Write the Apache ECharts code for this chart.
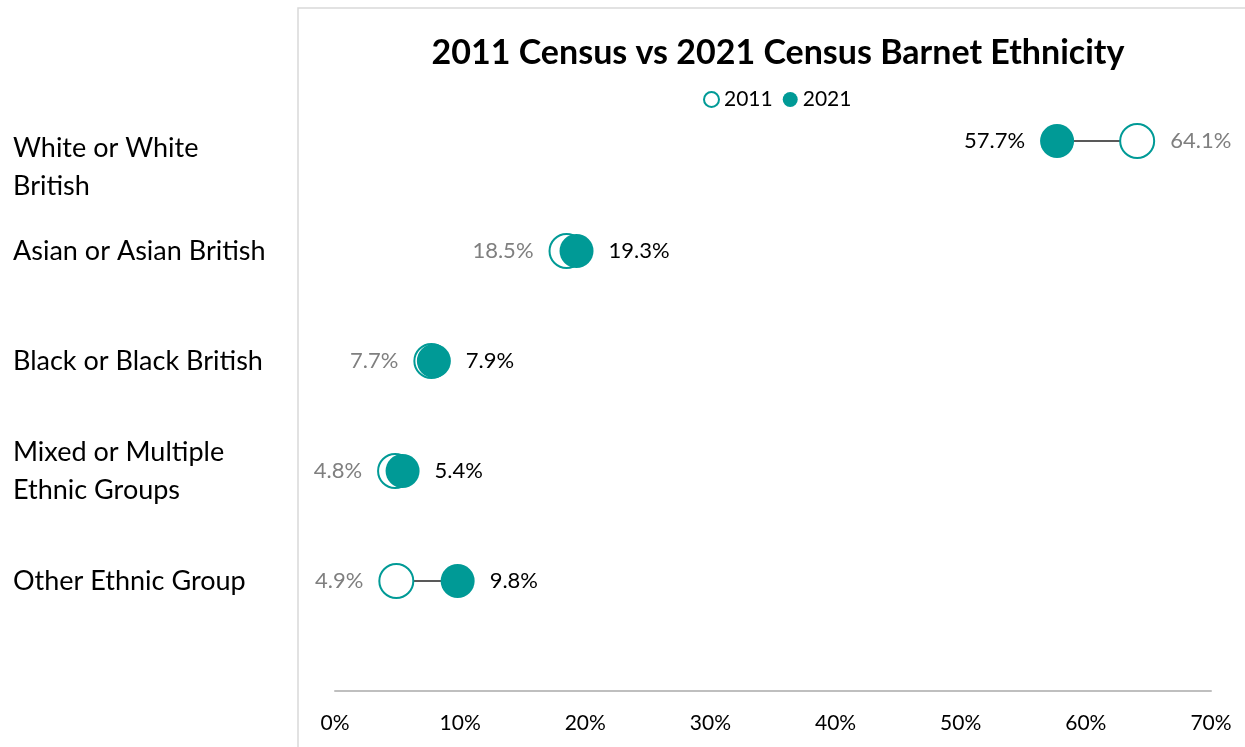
<!DOCTYPE html>
<html>
<head>
<meta charset="utf-8">
<script src="https://cdn.jsdelivr.net/npm/echarts@6/dist/echarts.min.js"></script>
<style>
  html, body { margin: 0; padding: 0; background: #fff; }
  #main { width: 1245px; height: 747px; }
</style>
</head>
<body>
<div id="main"></div>
<script>
// data (percent of population)
const categories = ['White or White\nBritish', 'Asian or Asian British', 'Black or Black British', 'Mixed or Multiple\nEthnic Groups', 'Other Ethnic Group'];
const values2011 = [64.1, 18.5, 7.7, 4.8, 4.9];
const values2021 = [57.7, 19.3, 7.9, 5.4, 9.8];
const xTicks = [0, 10, 20, 30, 40, 50, 60, 70];

const teal = '#009a96';
const font = 'Lato, "Open Sans", sans-serif';

// row position for each category on the vertical value axis (top row = 5)
const rowOf = (i) => categories.length - i;

const chart = echarts.init(document.getElementById('main'));

// one short connector line per category
const connectors = categories.map((c, i) => ({
  type: 'line',
  silent: true,
  symbol: 'none',
  z: 1,
  lineStyle: { color: '#595959', width: 2 },
  data: [[values2011[i], rowOf(i)], [values2021[i], rowOf(i)]]
}));

const option = {
  textStyle: { fontFamily: font },
  animation: false,
  title: {
    text: '2011 Census vs 2021 Census Barnet Ethnicity',
    left: 773,
    top: 31,
    textAlign: 'center',
    textStyle: { fontSize: 34, fontWeight: 'bold', color: '#000', fontFamily: font }
  },
  legend: {
    left: 698,
    top: 84,
    itemWidth: 15,
    itemHeight: 15,
    itemGap: 10,
    textStyle: { fontSize: 21, color: '#000', fontFamily: font },
    data: [
      { name: '2011', icon: 'circle', itemStyle: { color: '#fff', borderColor: teal, borderWidth: 2 } },
      { name: '2021', icon: 'circle', itemStyle: { color: teal } }
    ]
  },
  graphic: [
    {
      type: 'rect',
      shape: { x: 298, y: 8, width: 1000, height: 800 },
      style: { fill: 'none', stroke: '#d9d9d9', lineWidth: 1.5 },
      silent: true
    }
  ],
  grid: { left: 335, right: 34, top: 31, bottom: 56 },
  xAxis: {
    type: 'value',
    min: xTicks[0],
    max: xTicks[xTicks.length - 1],
    interval: 10,
    splitLine: { show: false },
    axisTick: { show: false },
    axisLine: { show: true, lineStyle: { color: '#bfbfbf', width: 2 } },
    axisLabel: {
      formatter: (v) => v + '%',
      fontSize: 21,
      color: '#000',
      margin: 22,
      fontFamily: font
    }
  },
  yAxis: {
    type: 'value',
    min: 0,
    max: 6,
    interval: 1,
    splitLine: { show: false },
    axisTick: { show: false },
    axisLine: { show: false },
    axisLabel: {
      formatter: (v) => {
        const i = categories.length - v;
        if (i < 0 || i >= categories.length) return '';
        // the top label sits lower in the reference
        if (i === 0) {
          return '{gap|}\n' + categories[i].split('\n').map((s) => '{t|' + s + '}').join('\n');
        }
        return categories[i];
      },
      align: 'left',
      margin: 322,
      fontSize: 27,
      lineHeight: 38,
      color: '#000',
      fontFamily: font,
      rich: {
        gap: { lineHeight: 52, fontSize: 1 },
        t: { fontSize: 27, lineHeight: 38, color: '#000', fontFamily: font }
      }
    }
  },
  series: connectors.concat([
    {
      name: '2011',
      type: 'scatter',
      z: 3,
      symbol: 'circle',
      symbolSize: 34,
      itemStyle: { color: '#fff', borderColor: teal, borderWidth: 2, opacity: 1 },
      data: values2011.map((v, i) => ({
        value: [v, rowOf(i)],
        label: { position: v > values2021[i] ? 'right' : 'left' }
      })),
      label: {
        show: true,
        formatter: (p) => p.value[0].toFixed(1) + '%',
        fontSize: 22,
        color: '#7f7f7f',
        distance: 15,
        fontFamily: font
      }
    },
    {
      name: '2021',
      type: 'scatter',
      z: 4,
      symbol: 'circle',
      symbolSize: 34,
      itemStyle: { color: teal, opacity: 1 },
      data: values2021.map((v, i) => ({
        value: [v, rowOf(i)],
        label: { position: v >= values2011[i] ? 'right' : 'left' }
      })),
      label: {
        show: true,
        formatter: (p) => p.value[0].toFixed(1) + '%',
        fontSize: 22,
        color: '#000',
        distance: 15,
        fontFamily: font
      }
    }
  ])
};

chart.setOption(option);
</script>
</body>
</html>
